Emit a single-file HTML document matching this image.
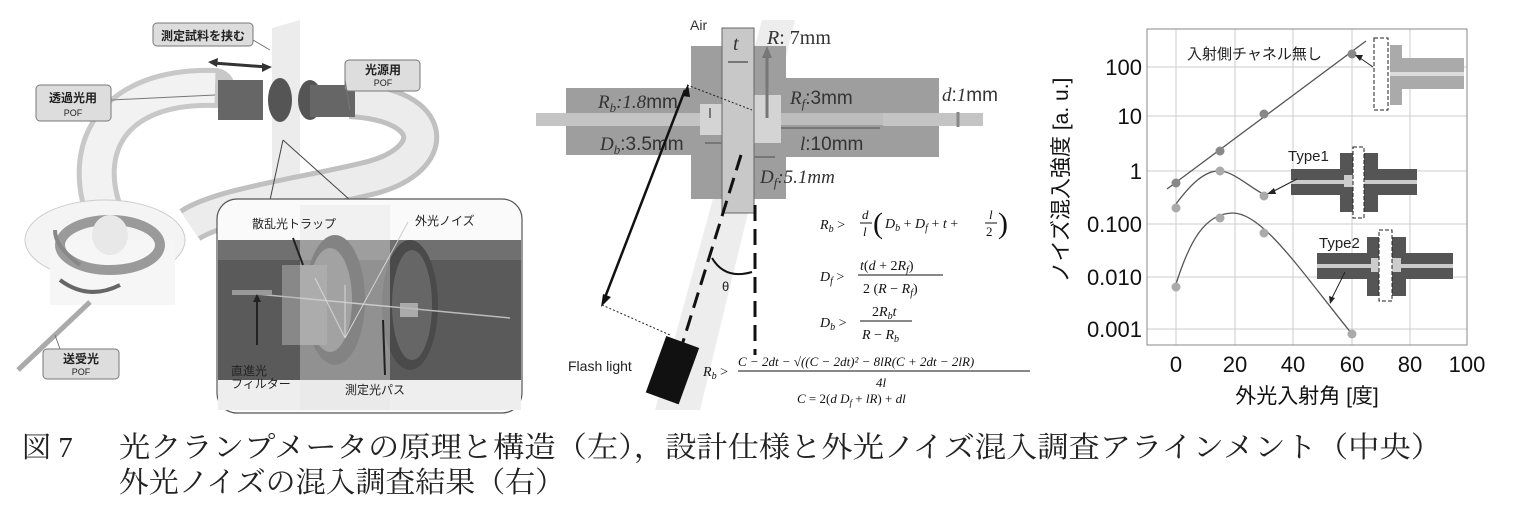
<!DOCTYPE html>
<html><head><meta charset="utf-8"><style>
html,body{margin:0;padding:0;background:#fff;}
svg{display:block;}
.jp{font-family:"Liberation Sans","Noto Sans CJK JP",sans-serif;}
.mi{font-family:"Liberation Serif","DejaVu Serif",serif;font-style:italic;}
</style></head><body>
<svg width="1514" height="520" viewBox="0 0 1514 520" xmlns="http://www.w3.org/2000/svg">
<!-- ===== LEFT PANEL ===== -->
<polygon points="272,28 300,20 300,195 272,205" fill="#ececec"/>
<path d="M105,215 C80,150 110,85 215,88" fill="none" stroke="#c8c8c8" stroke-width="40" stroke-linecap="round"/>
<path d="M105,215 C80,150 110,85 215,88" fill="none" stroke="#f2f2f2" stroke-width="30"/>
<path d="M350,100 C440,105 440,160 370,178 C300,195 220,205 190,225" fill="none" stroke="#c0c0c0" stroke-width="38"/>
<path d="M350,100 C440,105 440,160 370,178 C300,195 220,205 190,225" fill="none" stroke="#ececec" stroke-width="28"/>
<ellipse cx="105" cy="240" rx="80" ry="40" fill="#f4f4f4" stroke="#ccc"/>
<rect x="50" y="240" width="125" height="65" fill="#f6f6f6"/>
<ellipse cx="110" cy="245" rx="50" ry="25" fill="none" stroke="#9a9a9a" stroke-width="10"/>
<ellipse cx="110" cy="235" rx="18" ry="20" fill="#e8e8e8"/>
<path d="M80,265 C60,250 55,240 55,230" fill="none" stroke="#888" stroke-width="4"/>
<path d="M60,280 C80,295 100,295 120,285" fill="none" stroke="#666" stroke-width="4"/>
<line x1="18" y1="370" x2="90" y2="302" stroke="#aaa" stroke-width="5"/>
<rect x="218" y="80" width="45" height="40" fill="#666"/>
<ellipse cx="280" cy="100" rx="12" ry="22" fill="#555"/>
<ellipse cx="310" cy="100" rx="12" ry="20" fill="#555"/>
<rect x="310" y="85" width="45" height="32" fill="#666"/>
<line x1="213" y1="63" x2="267" y2="67" stroke="#333" stroke-width="3"/>
<polygon points="208,62 218,58 217,67" fill="#333"/><polygon points="272,67 262,63 262,72" fill="#333"/>
<line x1="283" y1="140" x2="270" y2="200" stroke="#444"/>
<line x1="283" y1="140" x2="350" y2="200" stroke="#444"/>
<!-- inset -->
<rect x="217" y="199" width="305" height="214" rx="20" fill="#fafafa" stroke="#555" stroke-width="1.2"/>
<rect x="218" y="240" width="303" height="140" fill="#5a5a5a"/>
<rect x="218" y="240" width="303" height="20" fill="#707070"/>
<ellipse cx="335" cy="300" rx="30" ry="65" fill="#444"/>
<ellipse cx="330" cy="300" rx="22" ry="52" fill="#777"/>
<rect x="282" y="265" width="45" height="80" fill="#888"/>
<ellipse cx="410" cy="305" rx="28" ry="65" fill="#4a4a4a"/>
<ellipse cx="412" cy="305" rx="20" ry="55" fill="#666"/>
<rect x="400" y="303" width="18" height="14" fill="#aaa"/>
<line x1="235" y1="292" x2="510" y2="318" stroke="#bbb" stroke-width="1.5"/>
<rect x="232" y="290" width="40" height="5" fill="#999"/>
<line x1="345" y1="338" x2="315" y2="278" stroke="#ccc"/><line x1="345" y1="338" x2="345" y2="285" stroke="#ccc"/><line x1="345" y1="338" x2="408" y2="222" stroke="#ccc"/>
<rect x="218" y="380" width="303" height="30" fill="#eee"/>
<rect x="300" y="205" width="90" height="205" fill="#e4e4e4" opacity="0.4"/>
<g class="jp" font-size="12" fill="#222">
<text x="252" y="228">散乱光トラップ</text>
<text x="415" y="225">外光ノイズ</text>
<text x="231" y="375">直進光</text><text x="231" y="388">フィルター</text>
<text x="345" y="394">測定光パス</text>
</g>
<line x1="257" y1="345" x2="257" y2="300" stroke="#222" stroke-width="2"/><polygon points="253,302 261,302 257,294" fill="#222"/>
<line x1="303" y1="265" x2="293" y2="238" stroke="#222" stroke-width="2"/>
<line x1="385" y1="375" x2="383" y2="320" stroke="#222" stroke-width="2"/>
<!-- callouts -->
<g class="jp" font-weight="bold" fill="#222" text-anchor="middle">
<rect x="153" y="23" width="100" height="23" rx="4" fill="#ddd" stroke="#777"/><text x="203" y="40" font-size="12">測定試料を挟む</text>
<rect x="36" y="85" width="75" height="36" rx="4" fill="#ddd" stroke="#777"/><text x="73" y="102" font-size="12">透過光用</text><text x="73" y="116" font-size="9" font-weight="normal">POF</text>
<rect x="345" y="60" width="75" height="31" rx="4" fill="#ddd" stroke="#777"/><text x="383" y="74" font-size="12">光源用</text><text x="383" y="86" font-size="9" font-weight="normal">POF</text>
<rect x="43" y="349" width="76" height="30" rx="4" fill="#ddd" stroke="#777"/><text x="81" y="363" font-size="12">送受光</text><text x="81" y="375" font-size="9" font-weight="normal">POF</text>
</g>
<line x1="253" y1="40" x2="270" y2="50" stroke="#777"/><line x1="111" y1="100" x2="215" y2="95" stroke="#777"/><line x1="345" y1="80" x2="350" y2="110" stroke="#777"/><line x1="60" y1="349" x2="55" y2="335" stroke="#777"/>

<!-- ===== MIDDLE PANEL ===== -->
<polygon points="762,20 795,20 700,410 655,410" fill="#ededed"/>
<rect x="566" y="88" width="156" height="67" fill="#9e9e9e"/>
<rect x="691" y="46" width="31" height="153" fill="#9e9e9e"/>
<rect x="754" y="46" width="32" height="153" fill="#9e9e9e"/>
<rect x="786" y="78" width="153" height="79" fill="#9e9e9e"/>
<rect x="536" y="113" width="166" height="13" fill="#c4c4c4"/>
<rect x="700" y="104" width="22" height="31" fill="#d4d4d4"/>
<rect x="754" y="95" width="27" height="48" fill="#d4d4d4"/>
<rect x="781" y="113" width="102" height="12" fill="#bdbdbd"/>
<rect x="883" y="113" width="100" height="13" fill="#c4c4c4"/>
<rect x="722" y="28" width="32" height="185" fill="#c8c8c8" stroke="#666" stroke-width="1"/>
<line x1="958" y1="112" x2="958" y2="127" stroke="#888" stroke-width="3"/>
<g stroke="#777" stroke-width="3" fill="#777">
<line x1="767" y1="118" x2="767" y2="55"/><polygon points="762,58 772,58 767,46" stroke="none"/>
<line x1="728" y1="62" x2="748" y2="62" stroke-width="2"/>
<line x1="710" y1="118" x2="710" y2="108" stroke-width="2"/>
<line x1="781" y1="128" x2="880" y2="128" stroke-width="2"/>
<line x1="722" y1="143" x2="705" y2="143" stroke-width="2"/>
<line x1="754" y1="157" x2="775" y2="157" stroke-width="2"/>
</g>
<g class="mi" fill="#333">
<text x="690" y="30" font-style="normal" font-family="Liberation Sans,sans-serif" font-size="14">Air</text>
<text x="733" y="50" font-size="20">t</text>
<text x="767" y="44" font-size="20"><tspan>R</tspan><tspan font-style="normal">: 7mm</tspan></text>
<text x="598" y="108" font-size="19">R<tspan font-size="13" dy="4">b</tspan><tspan dy="-4">:1.8</tspan><tspan font-style="normal" font-family="Liberation Sans,sans-serif">mm</tspan></text>
<text x="790" y="104" font-size="19">R<tspan font-size="13" dy="4">f</tspan><tspan dy="-4" font-style="normal" font-family="Liberation Sans,sans-serif">:3mm</tspan></text>
<text x="942" y="101" font-size="19">d<tspan font-style="normal" font-family="Liberation Sans,sans-serif">:</tspan>1<tspan font-style="normal" font-family="Liberation Sans,sans-serif">mm</tspan></text>
<text x="600" y="150" font-size="19">D<tspan font-size="13" dy="4">b</tspan><tspan dy="-4" font-style="normal" font-family="Liberation Sans,sans-serif">:3.5mm</tspan></text>
<text x="800" y="150" font-size="19">l<tspan font-style="normal" font-family="Liberation Sans,sans-serif">:10mm</tspan></text>
<text x="760" y="183" font-size="19">D<tspan font-size="13" dy="4">f</tspan><tspan dy="-4">:5.1mm</tspan></text>
</g>
<line x1="685" y1="90" x2="604" y2="300" stroke="#111" stroke-width="2.5"/>
<polygon points="688,84 682,96 690,97" fill="#111"/><polygon points="601,307 603,294 611,297" fill="#111"/>
<line x1="687" y1="85" x2="752" y2="110" stroke="#222" stroke-dasharray="2,2"/>
<line x1="602" y1="305" x2="670" y2="335" stroke="#222" stroke-dasharray="2,2"/>
<line x1="741" y1="155" x2="682" y2="345" stroke="#111" stroke-width="3" stroke-dasharray="16,8"/>
<line x1="755" y1="205" x2="755" y2="355" stroke="#111" stroke-width="3" stroke-dasharray="16,8"/>
<path d="M712,258 Q725,280 752,272" fill="none" stroke="#111" stroke-width="2"/>
<text x="722" y="291" font-family="Liberation Sans,sans-serif" font-size="13" fill="#222">θ</text>
<rect x="655" y="340" width="35" height="60" fill="#111" transform="rotate(20 672 370)"/>
<text x="568" y="371" font-family="Liberation Sans,sans-serif" font-size="14" fill="#222">Flash light</text>
<g class="mi" fill="#111" font-size="14">
<text x="820" y="229">R<tspan font-size="10" dy="3">b</tspan><tspan dy="-3" font-style="normal"> &gt; </tspan></text>
<text x="862" y="219" font-size="13">d</text><line x1="860" y1="223" x2="872" y2="223" stroke="#111"/><text x="863" y="236" font-size="13">l</text>
<text x="873" y="233" font-size="30" font-style="normal">(</text>
<text x="885" y="228">D<tspan font-size="10" dy="3">b</tspan><tspan dy="-3" font-style="normal"> + </tspan>D<tspan font-size="10" dy="3">f</tspan><tspan dy="-3" font-style="normal"> + </tspan>t<tspan font-style="normal"> +</tspan></text>
<text x="989" y="219" font-size="13">l</text><line x1="985" y1="223" x2="997" y2="223" stroke="#111"/><text x="986" y="236" font-size="13" font-style="normal">2</text>
<text x="998" y="233" font-size="30" font-style="normal">)</text>
<text x="820" y="281">D<tspan font-size="10" dy="3">f</tspan><tspan dy="-3" font-style="normal"> &gt; </tspan></text>
<text x="860" y="270">t<tspan font-style="normal">(</tspan>d<tspan font-style="normal"> + 2</tspan>R<tspan font-size="10" dy="3">f</tspan><tspan dy="-3" font-style="normal">)</tspan></text>
<line x1="858" y1="275" x2="943" y2="275" stroke="#111"/>
<text x="863" y="293"><tspan font-style="normal">2 (</tspan>R<tspan font-style="normal"> − </tspan>R<tspan font-size="10" dy="3">f</tspan><tspan dy="-3" font-style="normal">)</tspan></text>
<text x="820" y="327">D<tspan font-size="10" dy="3">b</tspan><tspan dy="-3" font-style="normal"> &gt; </tspan></text>
<text x="872" y="316"><tspan font-style="normal">2</tspan>R<tspan font-size="10" dy="3">b</tspan><tspan dy="-3">t</tspan></text>
<line x1="860" y1="321" x2="912" y2="321" stroke="#111"/>
<text x="862" y="339">R<tspan font-style="normal"> − </tspan>R<tspan font-size="10" dy="3">b</tspan></text>
<text x="703" y="376">R<tspan font-size="10" dy="3">b</tspan><tspan dy="-3" font-style="normal"> &gt;</tspan></text>
<text x="738" y="366" font-size="13">C − 2dt − √((C − 2dt)² − 8lR(C + 2dt − 2lR)</text>
<line x1="738" y1="371" x2="1030" y2="371" stroke="#111"/>
<text x="876" y="387" font-size="13">4l</text>
<text x="797" y="403" font-size="13">C<tspan font-style="normal"> = 2(</tspan>d D<tspan font-size="9" dy="3">f</tspan><tspan dy="-3" font-style="normal"> + </tspan>lR<tspan font-style="normal">) + </tspan>dl</text>
</g>

<!-- ===== RIGHT PANEL (chart) ===== -->
<g stroke="#ccc" stroke-width="1">
<line x1="1176" y1="29" x2="1176" y2="345"/><line x1="1235" y1="29" x2="1235" y2="345"/><line x1="1293" y1="29" x2="1293" y2="345"/><line x1="1352" y1="29" x2="1352" y2="345"/><line x1="1410" y1="29" x2="1410" y2="345"/>
<line x1="1147" y1="67" x2="1467" y2="67"/><line x1="1147" y1="116" x2="1467" y2="116"/><line x1="1147" y1="171" x2="1467" y2="171"/><line x1="1147" y1="224" x2="1467" y2="224"/><line x1="1147" y1="277" x2="1467" y2="277"/><line x1="1147" y1="329" x2="1467" y2="329"/>
</g>
<rect x="1147" y="29" width="320" height="316" fill="none" stroke="#888" stroke-width="1"/>
<g font-family="Liberation Sans,sans-serif" font-size="22" fill="#111" text-anchor="end">
<text x="1142" y="75">100</text><text x="1142" y="124">10</text><text x="1142" y="179">1</text><text x="1142" y="232">0.100</text><text x="1142" y="285">0.010</text><text x="1142" y="337">0.001</text>
</g>
<g font-family="Liberation Sans,sans-serif" font-size="22" fill="#111" text-anchor="middle">
<text x="1176" y="372">0</text><text x="1235" y="372">20</text><text x="1293" y="372">40</text><text x="1352" y="372">60</text><text x="1410" y="372">80</text><text x="1467" y="372">100</text>
</g>
<text x="1307" y="403" class="jp" font-size="21" text-anchor="middle" fill="#111">外光入射角 [度]</text>
<text transform="translate(1068,180) rotate(-90)" class="jp" font-size="21" text-anchor="middle" fill="#111">ノイズ混入強度 [a. u.]</text>
<line x1="1167" y1="189" x2="1366" y2="41" stroke="#555" stroke-width="1.3"/>
<path d="M1176,204 C1190,185 1205,170 1220,171 C1235,172 1250,188 1267,196" fill="none" stroke="#555" stroke-width="1.3"/>
<path d="M1176,284 C1190,240 1205,214 1232,213 C1262,212 1300,270 1352,334" fill="none" stroke="#555" stroke-width="1.3"/>
<g fill="#888">
<circle cx="1176" cy="183" r="4.5"/><circle cx="1220" cy="151" r="4.5"/><circle cx="1264" cy="114" r="4.5"/><circle cx="1352" cy="54" r="4.5"/>
</g>
<g fill="#aaa">
<circle cx="1176" cy="208" r="4.5"/><circle cx="1220" cy="171" r="4.5"/><circle cx="1264" cy="196" r="4.5"/>
<circle cx="1176" cy="287" r="4.5"/><circle cx="1220" cy="218" r="4.5"/><circle cx="1264" cy="233" r="4.5"/><circle cx="1352" cy="334" r="4.5"/>
</g>
<text x="1187" y="59" class="jp" font-size="15" fill="#222">入射側チャネル無し</text>
<rect x="1390" y="45" width="12" height="60" fill="#aaa"/><rect x="1402" y="58" width="62" height="31" fill="#aaa"/><rect x="1390" y="72" width="74" height="4" fill="#ddd"/>
<rect x="1374" y="38" width="14" height="72" fill="#fff" stroke="#222" stroke-dasharray="4,2"/>
<line x1="1373" y1="67" x2="1360" y2="58" stroke="#222"/><polygon points="1355,55 1363,55 1360,61" fill="#222"/>
<text x="1288" y="161" font-family="Liberation Sans,sans-serif" font-size="15" fill="#222">Type1</text>
<rect x="1291" y="169" width="126" height="26" fill="#555"/><rect x="1340" y="153" width="38" height="59" fill="#555"/><rect x="1291" y="180" width="126" height="4" fill="#ccc"/><rect x="1344" y="175" width="10" height="12" fill="#ccc"/>
<rect x="1353" y="147" width="11" height="71" fill="#fff" stroke="#222" stroke-dasharray="4,2"/>
<line x1="1297" y1="179" x2="1272" y2="192" stroke="#222"/><polygon points="1267,194 1274,188 1276,194" fill="#222"/>
<text x="1319" y="248" font-family="Liberation Sans,sans-serif" font-size="15" fill="#222">Type2</text>
<rect x="1317" y="253" width="136" height="26" fill="#555"/><rect x="1367" y="237" width="39" height="59" fill="#555"/><rect x="1317" y="264" width="136" height="4" fill="#ccc"/><rect x="1371" y="258" width="30" height="14" fill="#ccc"/>
<rect x="1379" y="230" width="13" height="71" fill="#fff" stroke="#222" stroke-dasharray="4,2"/>
<line x1="1345" y1="272" x2="1332" y2="298" stroke="#222"/><polygon points="1330,304 1329,296 1335,298" fill="#222"/>

<!-- ===== CAPTION ===== -->
<g font-family="Liberation Serif,'Noto Serif CJK JP','Noto Serif CJK SC',serif" font-size="29" fill="#222">
<text x="22" y="457">図 7</text>
<text x="119" y="457" textLength="1323" lengthAdjust="spacingAndGlyphs">光クランプメータの原理と構造（左），設計仕様と外光ノイズ混入調査アラインメント（中央）</text>
<text x="119" y="492" textLength="446" lengthAdjust="spacingAndGlyphs">外光ノイズの混入調査結果（右）</text>
</g>
</svg>
</body></html>
